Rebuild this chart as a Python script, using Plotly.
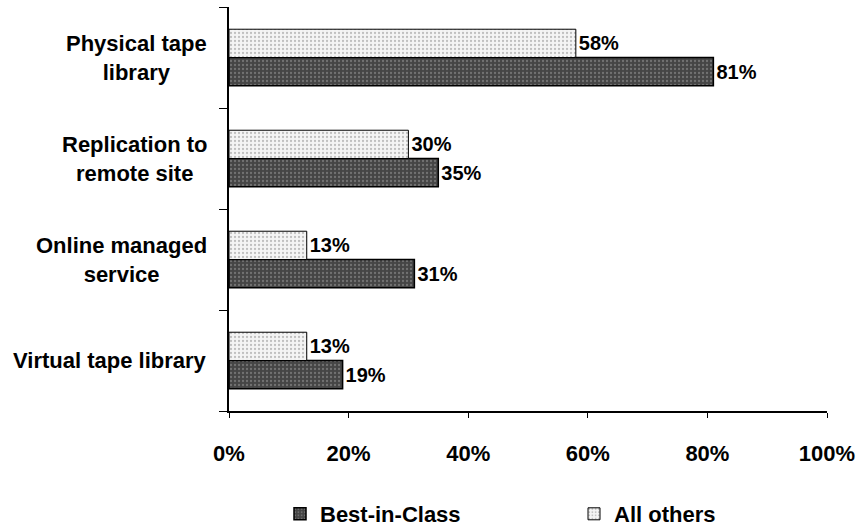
import plotly.graph_objects as go

categories = ["Physical tape library", "Replication to remote site",
              "Online managed service", "Virtual tape library"]
label_text = ["Physical tape<br>library", "Replication to<br>remote site",
              "Online managed<br>service", "Virtual tape library"]
best_in_class = [81, 35, 31, 19]
all_others = [58, 30, 13, 13]
x_ticks = [0, 20, 40, 60, 80, 100]
x_tick_text = [f"{v}%" for v in x_ticks]

FONT = "Arial, 'Liberation Sans', sans-serif"

fig = go.Figure()
fig.add_trace(go.Bar(
    name="Best-in-Class", y=categories, x=best_in_class, orientation="h",
    marker=dict(color="#454545", line=dict(color="black", width=1.5),
                pattern=dict(shape=".", fgcolor="#a0a0a0", size=4, solidity=0.25)),
    text=[f"{v}%" for v in best_in_class], textposition="outside",
    textfont=dict(family=FONT, size=20, color="black", weight="bold"),
    cliponaxis=False, legend="legend",
))
fig.add_trace(go.Bar(
    name="All others", y=categories, x=all_others, orientation="h",
    marker=dict(color="white", line=dict(color="black", width=1),
                pattern=dict(shape=".", fgcolor="#8a8a8a", bgcolor="#f4f4f4", size=4, solidity=0.25)),
    text=[f"{v}%" for v in all_others], textposition="outside",
    textfont=dict(family=FONT, size=20, color="black", weight="bold"),
    cliponaxis=False, legend="legend2",
))

for cat, lab in zip(categories, label_text):
    fig.add_annotation(x=0, xref="paper", y=cat, yref="y", text=lab,
                       xanchor="right", yanchor="middle", align="center",
                       xshift=-20, showarrow=False,
                       font=dict(family=FONT, size=22, color="black", weight="bold"))

legend_font = dict(family=FONT, size=22, color="black", weight="bold")
fig.update_layout(
    width=862, height=527,
    margin=dict(l=229, r=32, t=7, b=116),
    paper_bgcolor="white", plot_bgcolor="white",
    barmode="group", bargap=0.44, bargroupgap=0,
    font=dict(family=FONT, color="black"),
    showlegend=True,
    legend=dict(orientation="h", xref="container", yref="container",
                x=280 / 862, xanchor="left", y=1 - 514 / 527, yanchor="middle",
                itemwidth=30, font=legend_font, bgcolor="rgba(0,0,0,0)"),
    legend2=dict(orientation="h", xref="container", yref="container",
                 x=574 / 862, xanchor="left", y=1 - 514 / 527, yanchor="middle",
                 itemwidth=30, font=legend_font, bgcolor="rgba(0,0,0,0)"),
    xaxis=dict(range=[0, 100], tickmode="array", tickvals=x_ticks, ticktext=x_tick_text,
               showgrid=False, zeroline=False, showline=True, linecolor="black", linewidth=2,
               ticks="outside", ticklen=5, tickcolor="black", tickwidth=1,
               ticklabelstandoff=17,
               tickfont=dict(family=FONT, size=22, color="black", weight="bold")),
    yaxis=dict(categoryorder="array", categoryarray=categories[::-1],
               showgrid=False, zeroline=False, showline=True, linecolor="black", linewidth=1.5,
               ticks="outside", ticklen=8, tickson="boundaries", tickcolor="black",
               showticklabels=False),
)

fig.write_html("out.html")
